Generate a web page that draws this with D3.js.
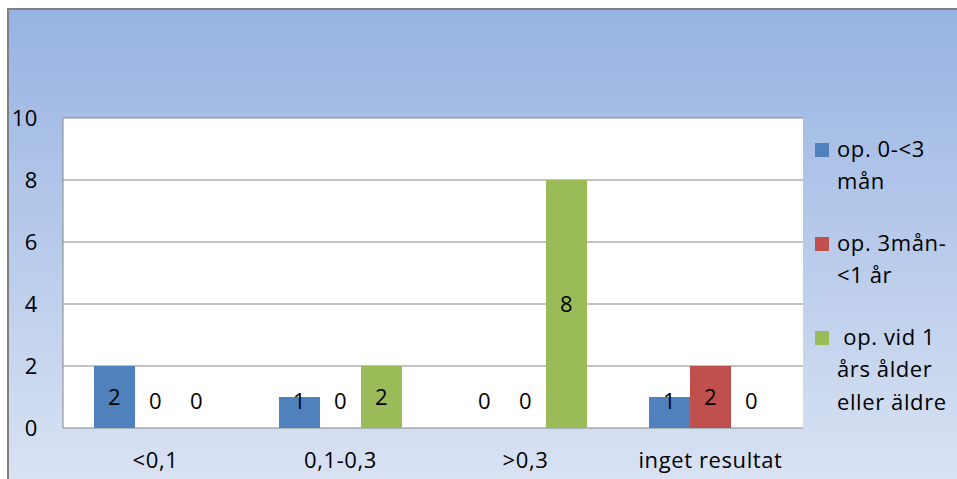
<!DOCTYPE html>
<html><head><meta charset="utf-8">
<script src="https://cdn.jsdelivr.net/npm/d3@7"></script>
<style>body{margin:0;background:#fff}svg{display:block}</style>
</head><body>
<svg id="c" width="957" height="479"></svg>
<script>
const categories = ["<0,1", "0,1-0,3", ">0,3", "inget resultat"];
const seriesNames = [["op. 0-<3", "mån"], ["op. 3mån-", "<1 år"], [" op. vid 1", "års ålder", "eller äldre"]];
const seriesA = [2, 1, 0, 1];
const seriesB = [0, 0, 0, 2];
const seriesC = [0, 2, 8, 0];
const yTicks = [0, 2, 4, 6, 8, 10];
const colors = ["#4f81bd", "#c0504d", "#9bbb59"];
const allSeries = [seriesA, seriesB, seriesC];

const svg = d3.select("#c");
const font = "'Open Sans', 'Noto Sans', sans-serif";
const fs = 22;
const ls = "0.6px";
const defs = svg.append("defs");
const g = defs.append("linearGradient").attr("id","bg").attr("x1",0).attr("y1",0).attr("x2",0).attr("y2",1);
g.append("stop").attr("offset","0%").attr("stop-color","#97b3e2");
g.append("stop").attr("offset","100%").attr("stop-color","#dae3f3");

svg.append("rect").attr("x",8).attr("y",9).attr("width",960).attr("height",480)
  .attr("fill","url(#bg)").attr("stroke","#808080").attr("stroke-width",2);

const L = 63, R = 803, T = 118, B = 428;
svg.append("rect").attr("x",L).attr("y",T).attr("width",R-L).attr("height",B-T).attr("fill","#fff");

const x0 = d3.scaleBand().domain(categories).range([L, R]).paddingInner(0).paddingOuter(0);
const bw = x0.bandwidth();
const inner = bw * 123/185;
const x1 = d3.scaleBand().domain([0,1,2]).range([(bw-inner)/2, (bw+inner)/2]);
const y = d3.scaleLinear().domain([0,10]).range([B, T]);

// gridlines
svg.append("g").selectAll("line").data(yTicks).join("line")
  .attr("x1",L).attr("x2",R).attr("y1",d=>y(d)).attr("y2",d=>y(d))
  .attr("stroke","#878787").attr("stroke-width",1);
svg.append("line").attr("x1",L).attr("x2",L).attr("y1",T).attr("y2",B).attr("stroke","#878787");

function txt(sel){
  return sel.attr("font-family",font).attr("font-size",fs).attr("fill","#000").attr("letter-spacing",ls);
}

// y tick labels
txt(svg.append("g").selectAll("text").data(yTicks).join("text")
  .attr("x",38).attr("y",d=>y(d)).attr("dy","0.35em").attr("text-anchor","end")).text(d=>d);

// bars
const data = [];
categories.forEach((c,i)=>allSeries.forEach((s,j)=>data.push({c, j, v:s[i]})));
const gb = svg.append("g");
gb.selectAll("rect").data(data).join("rect")
  .attr("x",d=>x0(d.c)+x1(d.j)).attr("width",x1.bandwidth())
  .attr("y",d=>y(d.v)).attr("height",d=>y(0)-y(d.v)).attr("fill",d=>colors[d.j]);
txt(gb.selectAll("text").data(data).join("text")
  .attr("x",d=>x0(d.c)+x1(d.j)+x1.bandwidth()/2)
  .attr("y",d=>Math.min((y(d.v)+y(0))/2, B-27)).attr("dy","0.35em").attr("text-anchor","middle")).text(d=>d.v);

// x labels
txt(svg.append("g").selectAll("text").data(categories).join("text")
  .attr("x",d=>x0(d)+bw/2).attr("y",460.5).attr("dy","0.35em").attr("text-anchor","middle")).text(d=>d);

// legend
const legY = [150, 244, 338];
const lg = svg.append("g");
seriesNames.forEach((lines,i)=>{
  lg.append("rect").attr("x",815).attr("y",legY[i]-7).attr("width",14).attr("height",14).attr("fill",colors[i]);
  lines.forEach((t,k)=>{
    txt(lg.append("text").attr("x",837).attr("y",legY[i]+k*32.5).attr("dy","0.3em"))
      .attr("xml:space","preserve").style("white-space","pre").text(t);
  });
});
</script>
</body></html>
